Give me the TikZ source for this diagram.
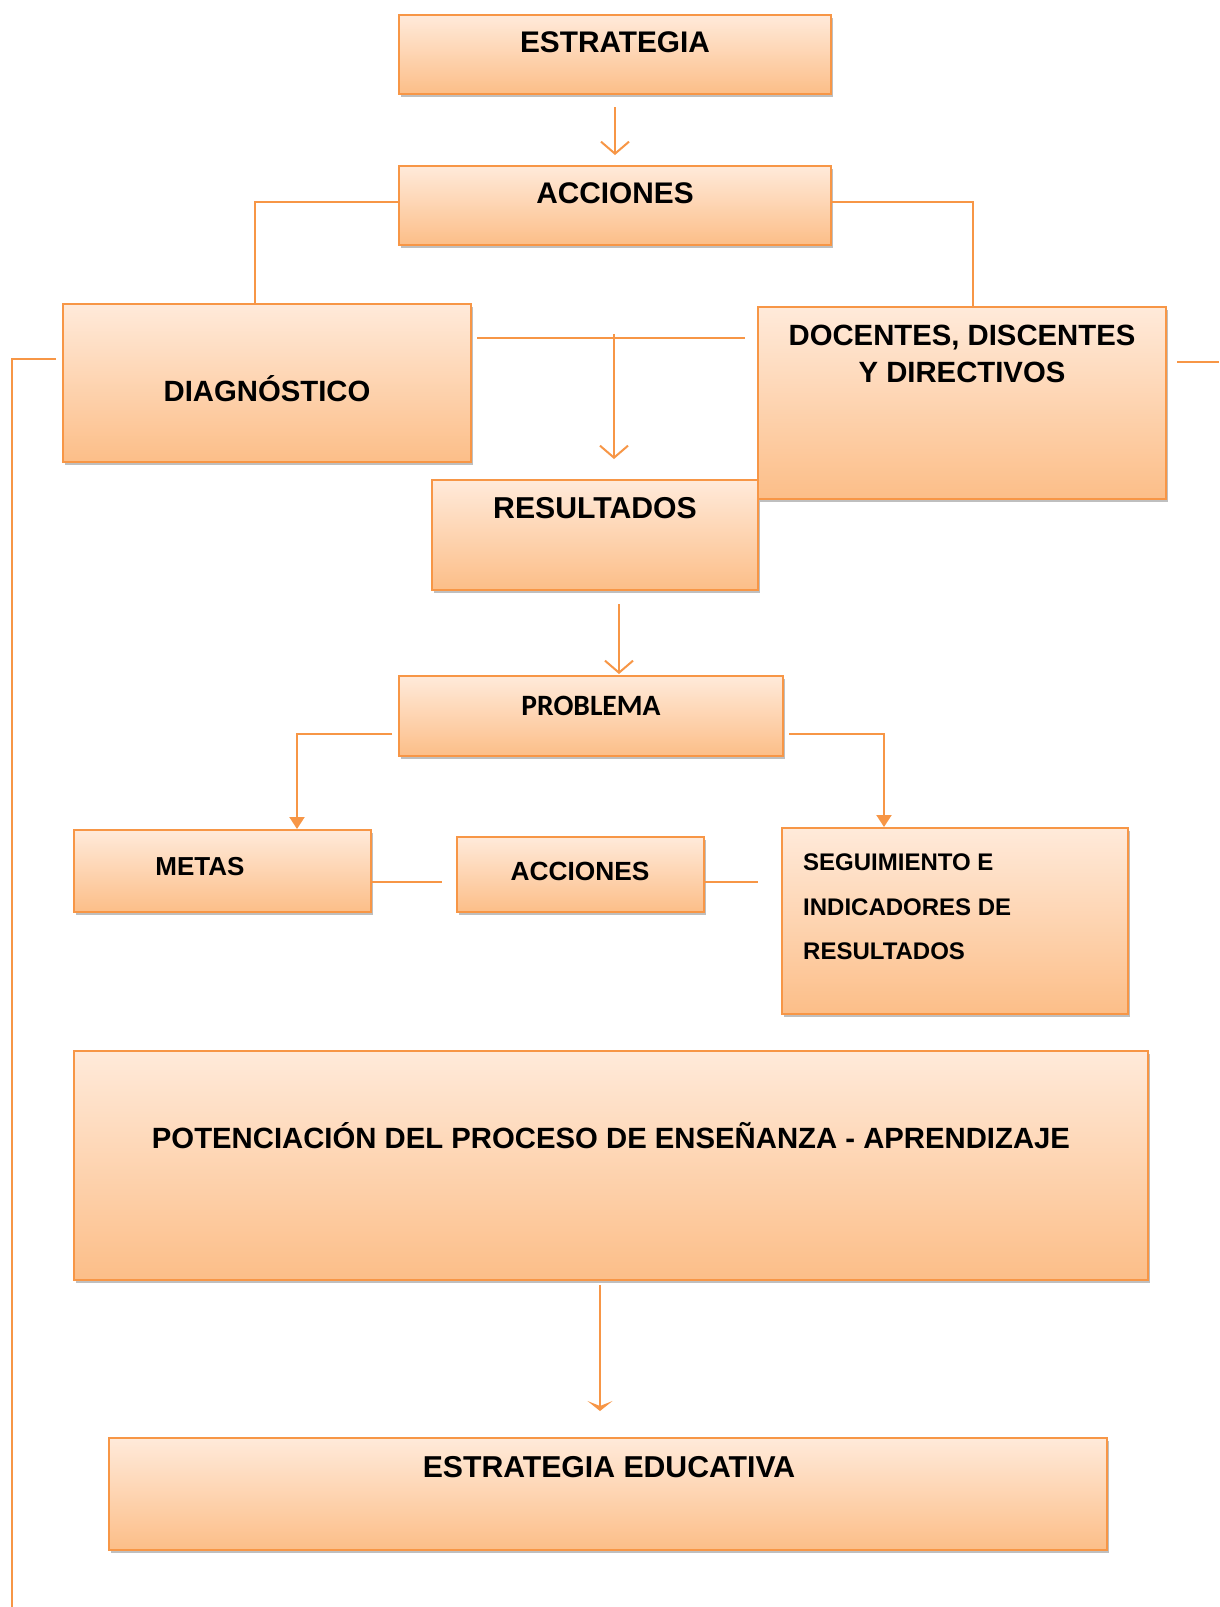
\documentclass[tikz,border=0pt]{standalone}
\usepackage{fontspec}
\setmainfont{Liberation Sans}
\newfontfamily\carlito{Carlito}
\usetikzlibrary{arrows.meta,shadows,calc}
\definecolor{orln}{RGB}{247,150,70}
\definecolor{ortop}{RGB}{255,234,218}
\definecolor{orbot}{RGB}{252,190,136}
\tikzset{
  orbox/.style={draw=orln, line width=2pt, top color=ortop, bottom color=orbot, inner sep=0pt,
    drop shadow={shadow xshift=2pt, shadow yshift=-3pt, fill=black, opacity=0.25}},
  conn/.style={draw=orln, line width=2pt},
  openarr/.style={conn, -{Straight Barb[length=12pt,width=28pt]}},
  triarr/.style={conn, -{Triangle[length=12pt,width=15pt]}},
  stlarr/.style={conn, -{Stealth[length=10pt,width=25pt,inset=5pt]}},
  lbl/.style={anchor=base, inner sep=0pt, font=\bfseries\fontsize{29.3}{34}\selectfont},
  lblb/.style={anchor=base, inner sep=0pt, font=\bfseries\fontsize{29.8}{34}\selectfont},
  lbls/.style={anchor=base west, inner sep=0pt, font=\bfseries\fontsize{24}{28}\selectfont},
}
\newcommand\bx[5]{\node[orbox, minimum width={#4-#2}, minimum height={#5-#3}] (#1) at ({(#2+#4)/2},{(#3+#5)/2}) {};}
\begin{document}
\begin{tikzpicture}[x=1pt,y=-1pt]
\fill[white] (0,0) rectangle (1219,1607);
\useasboundingbox (0,0) rectangle (1219,1607);
% boxes
\bx{est}{399}{15}{831}{94}
\bx{acc}{399}{166}{831}{245}
\bx{diag}{63}{304}{471}{462}
\bx{res}{432}{480}{758}{590}
\bx{doc}{758}{307}{1166}{499}
\bx{prob}{399}{676}{783}{756}
\bx{metas}{74}{830}{371}{912}
\bx{accb}{457}{837}{704}{912}
\bx{seg}{782}{828}{1128}{1014}
\bx{pot}{74}{1051}{1148}{1280}
\bx{edu}{109}{1438}{1107}{1550}
% labels
\node[lblb] (testr) at (615,52.5) {ESTRATEGIA};
\node[lblb] (tacc) at (615,203.5) {ACCIONES};
\node[lbl] (tdiag) at (267,401) {DIAGNÓSTICO};
\node[lbl] (tdoc1) at (962,345.5) {DOCENTES, DISCENTES};
\node[lbl] (tdoc2) at (962,382) {Y DIRECTIVOS};
\node[lblb, font=\bfseries\fontsize{30.2}{34}\selectfont] (tres) at (595,518.5) {RESULTADOS};
\node[anchor=base, inner sep=0pt, font=\carlito\bfseries\fontsize{29.5}{34}\selectfont] (tprob) at (591,715) {PROBLEMA};
\node[lbl, font=\bfseries\fontsize{26}{30}\selectfont] (tmetas) at (200,875) {METAS};
\node[lbl, font=\bfseries\fontsize{26.3}{30}\selectfont] (taccb) at (580,880) {ACCIONES};
\node[lbls] (tseg1) at (803,870) {SEGUIMIENTO E};
\node[lbls] (tseg2) at (803,915) {INDICADORES DE};
\node[lbls] (tseg3) at (803,959) {RESULTADOS};
\node[lbl] (tpot) at (611,1148.5) {POTENCIACIÓN DEL PROCESO DE ENSEÑANZA - APRENDIZAJE};
\node[lblb, font=\bfseries\fontsize{30.2}{34}\selectfont] (tedu) at (609,1477.5) {ESTRATEGIA EDUCATIVA};
% junction coordinates
\coordinate (j1) at (614,338);
\coordinate (j2) at (619,0);
\coordinate (j3) at (0,882);
\coordinate (j4) at (600,0);
\coordinate (j5) at (12,359);
\coordinate (lb) at (12,1607);
\coordinate (rb) at (1219,362);
% connectors
\draw[openarr] ($(est.south)+(0,12)$) -- ($(acc.north)+(0,-10)$);
\draw[conn] ($(acc.west)+(0,-3.5)$) -| ($(diag.north)+(-12,0)$);
\draw[conn] ($(acc.east)+(0,-3.5)$) -| ($(doc.north)+(11,0)$);
\draw[conn] ($(diag.east |- j1)+(5,0)$) -- ($(doc.west |- j1)+(-12,0)$);
\draw[openarr] ($(j1)+(0,-4)$) -- ($(j1 |- res.north)+(0,-20)$);
\draw[openarr] ($(res.south -| j2)+(0,13)$) -- ($(prob.north -| j2)+(0,-1)$);
\draw[triarr] ($(prob.west)+(-6,18)$) -| ($(metas.north)+(74.5,0)$);
\draw[triarr] ($(prob.east)+(5,18)$) -| ($(seg.north)+(-71,0)$);
\draw[conn] (metas.east |- j3) -- ($(accb.west |- j3)+(-14,0)$);
\draw[conn] (accb.east |- j3) -- ($(seg.west |- j3)+(-23,0)$);
\draw[stlarr] ($(pot.south -| j4)+(0,4)$) -- ($(edu.north -| j4)+(0,-26)$);
\draw[conn] ($(diag.west)+(-6,-24)$) -- (j5) -- (lb);
\draw[conn] ($(doc.east)+(10,-41)$) -- (rb);
\end{tikzpicture}
\end{document}
